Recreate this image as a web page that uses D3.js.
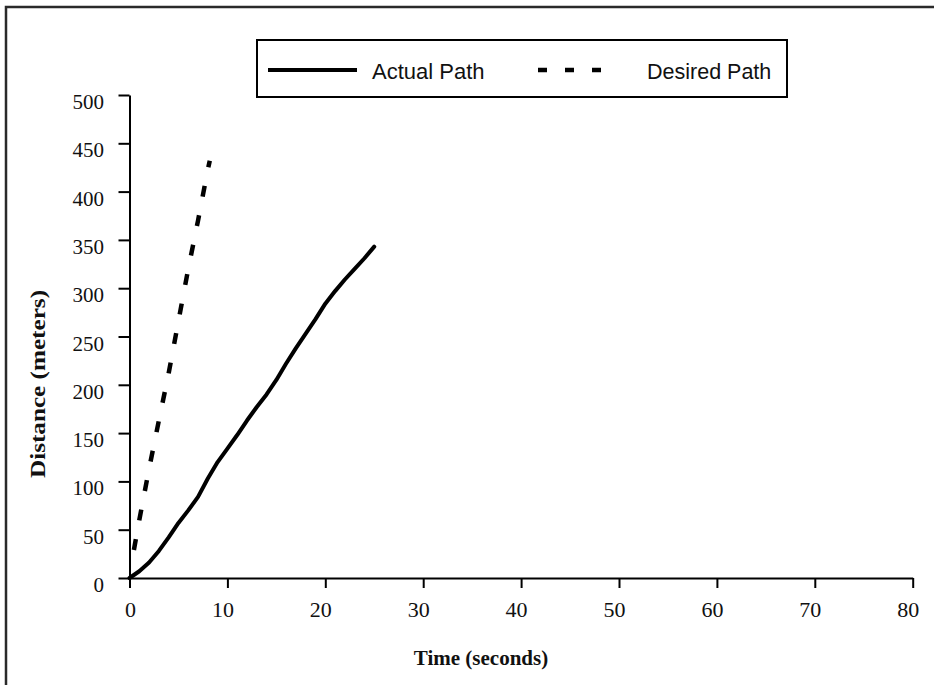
<!DOCTYPE html>
<html>
<head>
<meta charset="utf-8">
<script src="https://cdn.jsdelivr.net/npm/d3@7"></script>
<style>
  html, body { margin: 0; padding: 0; background: #fff; }
  svg { display: block; }
</style>
</head>
<body>
<svg id="chart" width="934" height="685"></svg>
<script>
// ---- data ----
const actualTime = [0,1,2,3,4,5,6,7,8,9,10,11,12,13,14,15,16,17,18,19,20,21,22,23,24,25];
const actualDist = [0,7,16,28,42,57,70,84,103,120,134,148,163,177,190,205,222,238,253,268,284,297,309,320,331,343];
const desiredTime = [0.45,1,2,3,4,5,6,7,8,8.2];
const desiredDist = [29,60,113,163,212,266,320,370,423,432];
const xTicks = [0,10,20,30,40,50,60,70,80];
const yTicks = [0,50,100,150,200,250,300,350,400,450,500];
const seriesNames = ["Actual Path", "Desired Path"];
const xTitle = "Time (seconds)";
const yTitle = "Distance (meters)";

const svg = d3.select("#chart");
const W = 934, H = 685;
svg.append("rect").attr("width", W).attr("height", H).attr("fill", "#fff");

// outer frame
svg.append("rect").attr("x", 6).attr("y", 7).attr("width", 960).attr("height", 720)
  .attr("fill", "none").attr("stroke", "#2a2a2a").attr("stroke-width", 2.5);

const x = d3.scaleLinear().domain([0, 80]).range([129.5, 912.7]);
const y = d3.scaleLinear().domain([0, 500]).range([578, 95]);

// y axis
const gy = svg.append("g").attr("transform", `translate(${x(0)},0)`)
  .call(d3.axisLeft(y).tickValues(yTicks).tickSize(11).tickPadding(14.5).tickSizeOuter(0));
gy.select(".domain").attr("stroke", "#000").attr("stroke-width", 2);
gy.selectAll(".tick line").attr("stroke", "#000").attr("stroke-width", 2);
gy.selectAll(".tick text").attr("dy", 13.5)
  .attr("font-family", "'Liberation Serif', 'Times New Roman', serif")
  .attr("font-size", 21).attr("fill", "#111");

// x axis
const gx = svg.append("g").attr("transform", `translate(0,${y(0)})`)
  .call(d3.axisBottom(x).tickValues(xTicks).tickSize(10).tickPadding(13.4).tickSizeOuter(0));
gx.select(".domain").attr("stroke", "#000").attr("stroke-width", 2);
gx.selectAll(".tick line").attr("stroke", "#000").attr("stroke-width", 2);
gx.selectAll(".tick text").attr("x", 6).attr("text-anchor", "end")
  .attr("font-family", "'Liberation Serif', 'Times New Roman', serif")
  .attr("font-size", 22).attr("fill", "#111");

// axis titles
svg.append("text").attr("x", 481).attr("y", 665).attr("text-anchor", "middle")
  .attr("font-family", "'Liberation Serif', 'Times New Roman', serif")
  .attr("font-weight", "bold").attr("font-size", 21).attr("fill", "#111")
  .text(xTitle);
svg.append("text").attr("transform", "translate(45,384) rotate(-90)")
  .attr("text-anchor", "middle")
  .attr("font-family", "'Liberation Serif', 'Times New Roman', serif")
  .attr("font-weight", "bold").attr("font-size", 22).attr("fill", "#111")
  .attr("textLength", 188).attr("lengthAdjust", "spacingAndGlyphs")
  .text(yTitle);

// lines
const line = d3.line().x(d => x(d[0])).y(d => y(d[1]));
svg.append("path").datum(actualTime.map((t, i) => [t, actualDist[i]]))
  .attr("d", line).attr("fill", "none").attr("stroke", "#000")
  .attr("stroke-width", 4).attr("stroke-linejoin", "round").attr("stroke-linecap", "round");
svg.append("path").datum(desiredTime.map((t, i) => [t, desiredDist[i]]))
  .attr("d", line).attr("fill", "none").attr("stroke", "#000")
  .attr("stroke-width", 4.5).attr("stroke-dasharray", "11,19");

// legend
const lg = svg.append("g");
lg.append("rect").attr("x", 257).attr("y", 40).attr("width", 530).attr("height", 57)
  .attr("fill", "#fff").attr("stroke", "#000").attr("stroke-width", 2);
lg.append("line").attr("x1", 268).attr("x2", 357).attr("y1", 70).attr("y2", 70)
  .attr("stroke", "#000").attr("stroke-width", 4);
lg.append("text").attr("x", 372).attr("y", 79)
  .attr("font-family", "'Liberation Sans', Arial, sans-serif").attr("font-size", 22)
  .attr("fill", "#111").text(seriesNames[0]);
lg.append("line").attr("x1", 538).attr("x2", 602).attr("y1", 70).attr("y2", 70)
  .attr("stroke", "#000").attr("stroke-width", 4.5).attr("stroke-dasharray", "9,18");
lg.append("text").attr("x", 647).attr("y", 79)
  .attr("font-family", "'Liberation Sans', Arial, sans-serif").attr("font-size", 21.5)
  .attr("fill", "#111").text(seriesNames[1]);
</script>
</body>
</html>
